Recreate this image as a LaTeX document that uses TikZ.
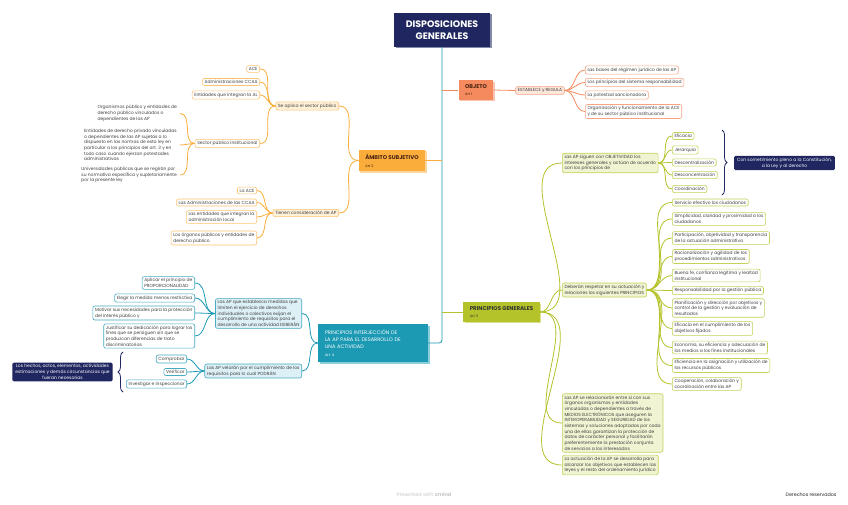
\documentclass[tikz,border=0pt]{standalone}
\usepackage{fontspec}
\setmainfont{Poppins}
\usepackage{tikz}
\usetikzlibrary{decorations.pathreplacing,shadows}
\definecolor{xnavy}{HTML}{1F2660}
\definecolor{xorange}{HTML}{F58A5E}
\definecolor{xorangeL}{HTML}{FDE6DB}
\definecolor{xorangeB}{HTML}{F7A482}
\definecolor{xamber}{HTML}{FBAD3C}
\definecolor{xamberL}{HTML}{FFF0D8}
\definecolor{xamberB}{HTML}{FCC472}
\definecolor{xteal}{HTML}{1C9AB4}
\definecolor{xtealL}{HTML}{DDF0F5}
\definecolor{xtealB}{HTML}{45AAC2}
\definecolor{xolive}{HTML}{B5C32B}
\definecolor{xoliveL}{HTML}{F1F4D3}
\definecolor{xoliveB}{HTML}{C5D157}
\definecolor{xtext}{HTML}{3F3F3F}
\definecolor{xbrown}{HTML}{4A2412}
\newcommand{\artline}[1]{\\[1pt]{\mdseries\fontsize{3.6}{4}\selectfont #1}}

\begin{document}
\begin{tikzpicture}[x=1pt,y=-1pt,
    font=\fontsize{4.45}{5.7}\selectfont,text=xtext,
    root/.style={fill=xnavy,text=white,align=center,minimum width=96pt,minimum height=34pt,
      font=\bfseries\fontsize{9.4}{11.5}\selectfont,
      drop shadow={shadow xshift=1.5pt,shadow yshift=-1.5pt,fill=xnavy!55,opacity=1}},
    topic/.style={align=left,inner xsep=6.5pt,inner ysep=4pt,font=\bfseries\fontsize{5.5}{6.8}\selectfont,
      drop shadow={shadow xshift=1.5pt,shadow yshift=-1.5pt,fill=#1!50,opacity=1},fill=#1},
    box/.style={rounded corners=2pt,line width=0.6pt,inner xsep=2.2pt,inner ysep=1.8pt,align=left},
    subO/.style={box,draw=xorangeB,fill=xorangeL},
    leafO/.style={box,draw=xorangeB,fill=white},
    subA/.style={box,draw=xamberB,fill=xamberL},
    leafA/.style={box,draw=xamberB,fill=white},
    bareA/.style={align=left,inner sep=1pt},
    subT/.style={box,draw=xtealB,fill=xtealL},
    leafT/.style={box,draw=xtealB,fill=white},
    subG/.style={box,draw=xoliveB,fill=xoliveL},
    leafG/.style={box,draw=xoliveB,fill=white},
    note/.style={rounded corners=1.5pt,fill=xnavy,text=white,align=center,inner xsep=3pt,inner ysep=2pt},
    linkO/.style={draw=xorange,line width=0.8pt},
    linkA/.style={draw=xamber,line width=0.8pt},
    linkT/.style={draw=xteal,line width=0.8pt},
    linkG/.style={draw=xolive,line width=0.8pt},
    brace/.style={draw=xnavy,line width=0.8pt,decorate,decoration={brace,amplitude=5pt}}]
    \fill[white] (0,0) rectangle (848,505);
    \useasboundingbox (0,0) rectangle (848,505);

    \node[root] (root) at (442,30) {DISPOSICIONES\\GENERALES};

    % objeto
    \node[topic=xorange,text=xbrown] (objeto) at (476,90) {OBJETO\artline{Art 1}};
    \node[subO] (establece) at (540,90.5) {ESTABLECE y REGULA};
    \node[leafO,anchor=west] (obj1) at (585,70) {Las bases del régimen jurídico de las AP};
    \node[leafO,anchor=west] (obj2) at (585,82.5) {Los principios del sistema responsabilidad};
    \node[leafO,anchor=west] (obj3) at (585,95) {La potestad sancionadora};
    \node[leafO,anchor=west] (obj4) at (585,111.5) {Organización y funcionamiento de la ACE\\y de su sector público institucional};

    % ambito subjetivo
    \node[topic=xamber,text=xbrown] (ambito) at (392,160.5) {ÁMBITO SUBJETIVO\artline{Art 2}};
    \node[subA,anchor=east] (aplica) at (339,106) {Se aplica el sector público};
    \node[leafA,anchor=east] (ace) at (260,69) {ACE};
    \node[leafA,anchor=east] (ccaa) at (260,82) {Administraciones CCAA};
    \node[leafA,anchor=east] (al) at (260,95) {Entidades que integran la AL};
    \node[leafA,anchor=east] (spi) at (260,143.5) {Sector público institucional};
    \node[bareA,anchor=east] (spi1) at (178,113.5) {Organismos público y entidades de\\derecho público vinculados o\\dependientes de las AP};
    \node[bareA,anchor=east] (spi2) at (178,145) {Entidades de derecho privado vinculadas\\o dependientes de las AP sujetas a lo\\dispuesto en las normas de esta ley en\\particular a los principios del art. 3 y en\\todo caso cuando ejerzan potestades\\administrativas};
    \node[bareA,anchor=east] (spi3) at (178,175) {Universidades públicas que se regirán por\\su normativa específica y supletoriamente\\por la presente ley};
    \node[subA,anchor=east] (tienen) at (339,213) {Tienen consideración de AP};
    \node[leafA,anchor=east] (tap1) at (257,190.5) {La ACE};
    \node[leafA,anchor=east] (tap2) at (257,202.5) {Las Administraciones de las CCAA};
    \node[leafA,anchor=east] (tap3) at (257,217) {Las entidades que integran la\\administración local};
    \node[leafA,anchor=east] (tap4) at (257,238) {Los órganos públicos y entidades de\\derecho público};

    % principios de intervencion
    \node[topic=xteal,text=white,text width=96pt,inner xsep=7pt,minimum height=38pt,
      font=\mdseries\fontsize{5.1}{7}\selectfont] (interj) at (373,343)
      {PRINCIPIOS INTERJECCIÓN DE\\LA AP PARA EL DESARROLLO DE\\UNA ACTIVIDAD\artline{Art 4}};
    \node[subT,anchor=east] (deberan) at (302,313.5) {Las AP que establezca medidas que\\limiten el ejercicio de derechos\\individuales o colectivos exijan el\\cumplimiento de requisitos para el\\desarrollo de una actividad DEBERÁN};
    \node[leafT,anchor=east] (deb1) at (195,283) {Aplicar el principio de\\PROPORCIONALIDAD};
    \node[leafT,anchor=east] (deb2) at (195,298) {Elegir la medida menos restrictiva};
    \node[leafT,anchor=east] (deb3) at (195,313) {Motivar sus necesidades para la protección\\del interés público y};
    \node[leafT,anchor=east] (deb4) at (195,336) {Justificar su dedicación para lograr los\\fines que se persiguen sin que se\\produzcan diferencias de trato\\discriminatorias};
    \node[subT,anchor=east] (podran) at (302,371) {Las AP velarán por el cumplimiento de los\\requisitos para lo cual PODRÁN};
    \node[leafT,anchor=east] (pod1) at (187,359) {Comprobar};
    \node[leafT,anchor=east] (pod2) at (187,372) {Verificar};
    \node[leafT,anchor=east] (pod3) at (187,384) {Investigar e inspeccionar};
    \node[note] (hechos) at (62.5,372) {Los hechos, actos, elementos, actividades\\estimaciones y demás circunstancias que\\fueran necesarias};
    \coordinate (braceL1) at (123,392);
    \coordinate (braceL2) at (123,352);

    % principios generales
    \node[topic=xolive,text=xtext!80!black] (pg) at (501.5,312) {PRINCIPIOS GENERALES\artline{Art 3}};
    \node[subG,anchor=west] (sigue) at (562,163) {Las AP siguen con OBJETIVIDAD los\\intereses generales y actúan de acuerdo\\con los principios de};
    \node[leafG,anchor=west] (sig1) at (672,136) {Eficacia};
    \node[leafG,anchor=west] (sig2) at (672,150) {Jerarquía};
    \node[leafG,anchor=west] (sig3) at (672,162.5) {Descentralización};
    \node[leafG,anchor=west] (sig4) at (672,175) {Desconcentración};
    \node[leafG,anchor=west] (sig5) at (672,189) {Coordinación};
    \node[note] (someti) at (784.5,163) {Con sometimiento pleno a la Constitución,\\a la Ley y al derecho};
    \coordinate (braceR1) at (722,130);
    \coordinate (braceR2) at (722,195);
    \node[subG,anchor=west] (respetar) at (562,290) {Deberán respetar en su actuación y\\relaciones los siguientes PRINCIPIOS};
    \node[leafG,anchor=west] (pr1) at (672,202.5) {Servicio efectivo los ciudadanos};
    \node[leafG,anchor=west] (pr2) at (672,219) {Simplicidad, claridad y proximidad a los\\ciudadanos};
    \node[leafG,anchor=west] (pr3) at (672,238) {Participación, objetividad y transparencia\\de la actuación administrativa};
    \node[leafG,anchor=west] (pr4) at (672,256.5) {Racionalización y agilidad de los\\procedimientos administrativos};
    \node[leafG,anchor=west] (pr5) at (672,275.5) {Buena fe, confianza legítima y lealtad\\institucional};
    \node[leafG,anchor=west] (pr6) at (672,290.5) {Responsabilidad por la gestión pública};
    \node[leafG,anchor=west] (pr7) at (672,308) {Planificación y dirección por objetivos y\\control de la gestión y evaluación de\\resultados};
    \node[leafG,anchor=west] (pr8) at (672,328.5) {Eficacia en el cumplimiento de los\\objetivos fijados};
    \node[leafG,anchor=west] (pr9) at (672,347.5) {Economía, su eficiencia y adecuación de\\los medios a los fines institucionales};
    \node[leafG,anchor=west] (pr10) at (672,365.5) {Eficiencia en la asignación y utilización de\\los recursos públicos};
    \node[leafG,anchor=west] (pr11) at (672,384) {Cooperación, colaboración y\\coordinación entre las AP};
    \node[subG,anchor=west] (medios) at (562,423) {Las AP se relacionarán entre sí con sus\\órganos organismos y entidades\\vinculadas o dependientes a través de\\MEDIOS ELECTRÓNICOS que aseguren la\\INTEROPERABILIDAD y SEGURIDAD de los\\sistemas y soluciones adoptadas por cada\\una de ellas garantizan la protección de\\datos de carácter personal y facilitarán\\preferentemente la prestación conjunta\\de servicios a los interesados};
    \node[subG,anchor=west] (actua) at (562,465) {La actuación de la AP se desarrolla para\\alcanzar los objetivos que establecen las\\leyes y el resto del ordenamiento jurídico};

    \node[text=black!22,font=\fontsize{5}{6}\selectfont] (presented) at (424,495) {Presented with \textbf{xmind}};
    \node[text=black!85,font=\fontsize{4.8}{6}\selectfont] (derechos) at (811,495) {Derechos reservados};

    % connectors
    \draw[linkT,rounded corners=3pt] (root.south) |- (interj.east);
    \draw[linkO] (root.south |- objeto.west) -- (objeto.west);
    \draw[linkA] (ambito.east) -- (ambito.east -| root.south);
    \draw[linkG] (root.south |- pg.west) -- (pg.west);

    \draw[linkO] (objeto.east) -- (establece.west);
    \foreach \c in {obj1,obj2,obj3,obj4}
      \draw[linkO] (establece.east) to[out=0,in=180] (\c.west);

    \foreach \c in {aplica,tienen}
      \draw[linkA] (ambito.west) to[out=180,in=0] (\c.east);
    \foreach \c in {ace,ccaa,al,spi}
      \draw[linkA] (aplica.west) to[out=180,in=0] (\c.east);
    \foreach \c in {spi1,spi2,spi3}
      \draw[linkA] (spi.west) to[out=180,in=0] ([xshift=2pt]\c.east);
    \foreach \c in {tap1,tap2,tap3,tap4}
      \draw[linkA] (tienen.west) to[out=180,in=0] (\c.east);

    \foreach \c in {deberan,podran}
      \draw[linkT] (interj.west) to[out=180,in=0] (\c.east);
    \foreach \c in {deb1,deb2,deb3,deb4}
      \draw[linkT] (deberan.west) to[out=180,in=0] (\c.east);
    \foreach \c in {pod1,pod2,pod3}
      \draw[linkT] (podran.west) to[out=180,in=0] (\c.east);
    \draw[brace] (braceL1) -- (braceL2);

    \foreach \c in {sigue,respetar,medios,actua}
      \draw[linkG] (pg.east) to[out=0,in=180] (\c.west);
    \foreach \c in {sig1,sig2,sig3,sig4,sig5}
      \draw[linkG] (sigue.east) to[out=0,in=180] (\c.west);
    \foreach \c in {pr1,pr2,pr3,pr4,pr5,pr6,pr7,pr8,pr9,pr10,pr11}
      \draw[linkG] (respetar.east) to[out=0,in=180] (\c.west);
    \draw[brace] (braceR1) -- (braceR2);
  \end{tikzpicture}
\end{document}
